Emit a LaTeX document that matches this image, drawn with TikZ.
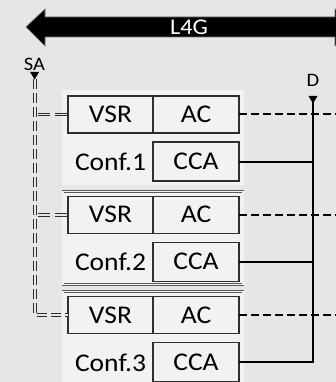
\documentclass[tikz,border=0pt]{standalone}
\usepackage{fontspec}
\setmainfont{Carlito}[FakeStretch=1.08]
\usetikzlibrary{arrows.meta}
\definecolor{bg}{HTML}{E6E6E6}
\definecolor{boxfill}{HTML}{F2F2F2}
\definecolor{edge}{HTML}{2E2E2E}
\begin{document}
\begin{tikzpicture}[x=1pt,y=-1pt,
  cell/.style={draw=edge,line width=1.3pt,fill=boxfill,anchor=north west,inner sep=0pt,outer sep=0pt,
    font=\fontsize{25.5}{28}\selectfont,minimum height=37pt},
  outerbox/.style={draw=edge!80,line width=0.7pt,double=boxfill,double distance=1.3pt,fill=boxfill,
    anchor=north west,inner sep=0pt,outer sep=0pt,minimum width=180pt,minimum height=93pt},
  conflabel/.style={font=\fontsize{25.5}{28}\selectfont,inner sep=0pt},
  smalllabel/.style={font=\fontsize{19}{21}\selectfont,inner sep=0pt},
  dbl/.style={draw=edge,line width=1pt,double=bg,double distance=1.6pt,dash pattern=on 10pt off 4pt},
  dblh/.style={dbl,dash pattern=on 12pt off 5pt},
  acline/.style={draw=black,line width=2pt,dash pattern=on 8pt off 4pt},
  ccaline/.style={draw=black,line width=2pt},
  tri/.style={fill=black}
]
\clip (0,0) rectangle (336,382);
\fill[bg] (0,0) rectangle (336,382);
% L4G arrow
\fill[black,draw=black!55,line width=0.6pt] (26,27) -- (45,9) -- (45,17) -- (335,17) -- (335,9) -- (354,27)
  -- (335,46) -- (335,37) -- (45,37) -- (45,46) -- cycle;
\node[font=\fontsize{22.5}{24}\selectfont,text=white,inner sep=0pt] (l4g) at (189,27.5) {L4G};
% configuration boxes
\foreach \i/\dy in {1/0,2/100.3,3/200.6}{
  \node[outerbox] (box\i) at (63,91+\dy) {};
  \node[cell,minimum width=85pt] (vsr\i) at (68,96+\dy) {VSR};
  \node[cell,minimum width=86pt] (ac\i) at (153,96+\dy) {AC};
  \node[cell,minimum width=86pt,minimum height=39pt] (cca\i) at (153,142+\dy) {CCA};
  \node[conflabel] (conf\i) at (110.5,162+\dy) {Conf.\i};
}
% labels and coordinates
\node[smalllabel] (sa) at (34.5,64) {SA};
\node[smalllabel] (d) at (313,80) {D};
\coordinate (satop) at (35,79);
\coordinate (dtop) at (313,97);
\coordinate (re) at (337,0);
% SA double dashed bus
\draw[dbl] (satop) |- (vsr3.west);
\draw[dblh] ([xshift=3pt]satop |- vsr1.west) -- (vsr1.west);
\draw[dblh] ([xshift=3pt]satop |- vsr2.west) -- (vsr2.west);
\fill[tri] (30,72) -- (39,72) -- (34.7,79.5) -- cycle;
% AC dashed lines
\foreach \i in {1,2,3}{
  \draw[acline] (ac\i.east) -- (ac\i.east -| re);
}
% CCA lines to D
\draw[ccaline] (cca3.east) -| (dtop);
\draw[ccaline] (cca1.east) -- (cca1.east -| dtop);
\draw[ccaline] (cca2.east) -- (cca2.east -| dtop);
\fill[tri] (308.5,96) -- (317.5,96) -- (313,103.5) -- cycle;
\end{tikzpicture}
\end{document}
